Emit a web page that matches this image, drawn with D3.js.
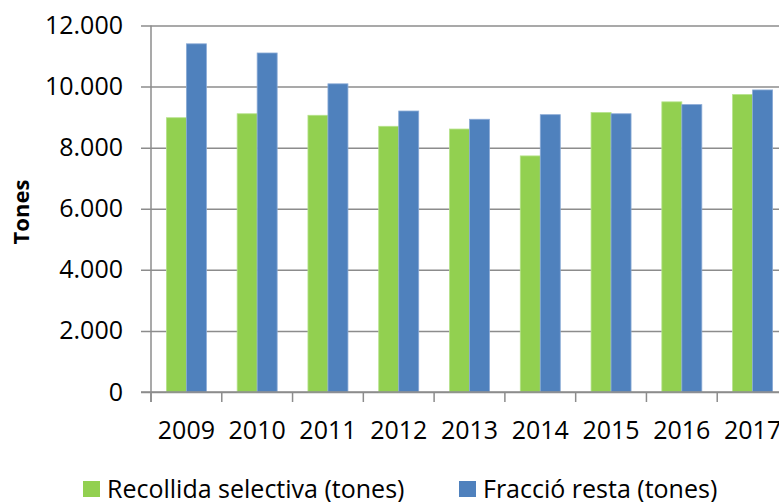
<!DOCTYPE html>
<html>
<head>
<meta charset="utf-8">
<script src="https://cdn.jsdelivr.net/npm/d3@7"></script>
<style>
  body { margin: 0; background: #fff; }
  text { font-family: "Open Sans", "Noto Sans", sans-serif; fill: #000; }
</style>
</head>
<body>
<script>
//chart values
var years = ["2009", "2010", "2011", "2012", "2013", "2014", "2015", "2016", "2017"];
var seriesNames = ["Recollida selectiva (tones)", "Fracció resta (tones)"];
var selectiva = [8980, 9110, 9060, 8700, 8610, 7730, 9150, 9500, 9740];
var resta = [11400, 11100, 10090, 9200, 8930, 9080, 9110, 9410, 9890];
var yTicks = [0, 2000, 4000, 6000, 8000, 10000, 12000];
var colors = ["#92D050", "#4F81BD"];

var w = 779, h = 502;
var plotLeft = 151, plotTop = 25.5, plotBottom = 392, plotRight = 788;

var rows = years.map(function(yr, i){
    return {year: yr, values: [selectiva[i], resta[i]]};
});

var svg = d3.select("body")
    .append("svg")
    .attr("width", w)
    .attr("height", h);

var x0 = d3.scaleBand()
    .domain(years)
    .range([plotLeft, plotRight]);

var x1 = d3.scaleBand()
    .domain([0, 1])
    .range([0, x0.bandwidth()])
    .paddingOuter(0.77);

var y = d3.scaleLinear()
    .domain([0, 12000])
    .range([plotBottom, plotTop]);

var fmt = function(d){ return d3.format(",")(d).replace(/,/g, "."); };

//gridlines + y labels
var yAxis = d3.axisLeft(y)
    .tickValues(yTicks)
    .tickSize(-(w - plotLeft + 10))
    .tickFormat(fmt);

var gy = svg.append("g")
    .attr("transform", "translate(" + (plotLeft - 10) + ",0)")
    .call(yAxis);
gy.select(".domain").remove();
gy.selectAll(".tick line")
    .attr("stroke", "#8c8c8c")
    .attr("stroke-width", 1.5);
gy.selectAll(".tick text")
    .attr("x", -18)
    .style("font-size", "25px")
    .attr("fill", "#000");

//bars
var groups = svg.selectAll(".yr")
    .data(rows)
    .enter()
    .append("g")
    .attr("class", "yr")
    .attr("transform", function(d){ return "translate(" + x0(d.year) + ",0)"; });

groups.selectAll("rect")
    .data(function(d){ return d.values; })
    .enter()
    .append("rect")
    .attr("x", function(d, i){ return x1(i); })
    .attr("y", function(d){ return y(d); })
    .attr("width", x1.bandwidth())
    .attr("height", function(d){ return y(0) - y(d); })
    .attr("fill", function(d, i){ return colors[i]; })
    .attr("stroke", function(d, i){ return i == 0 ? "#b5e28a" : "#8aaad6"; })
    .attr("stroke-width", 0.8);

//x axis
var xAxis = d3.axisBottom(x0)
    .tickSize(0)
    .tickPadding(29);
var gx = svg.append("g")
    .attr("transform", "translate(0," + plotBottom + ")")
    .call(xAxis);
gx.select(".domain").remove();
gx.selectAll(".tick text")
    .style("font-size", "25px")
    .attr("fill", "#000");

//category separator ticks
svg.selectAll(".sep")
    .data(years)
    .enter()
    .append("line")
    .attr("x1", function(d){ return x0(d); })
    .attr("x2", function(d){ return x0(d); })
    .attr("y1", plotBottom)
    .attr("y2", plotBottom + 10)
    .attr("stroke", "#8c8c8c")
    .attr("stroke-width", 1.5);

//axis lines
svg.append("line")
    .attr("x1", plotLeft).attr("x2", plotLeft)
    .attr("y1", plotTop).attr("y2", plotBottom + 10)
    .attr("stroke", "#8c8c8c")
    .attr("stroke-width", 1.5);
svg.append("line")
    .attr("x1", plotLeft - 10).attr("x2", w)
    .attr("y1", plotBottom).attr("y2", plotBottom)
    .attr("stroke", "#8c8c8c")
    .attr("stroke-width", 1.5);

//y title
svg.append("text")
    .attr("transform", "translate(29,212) rotate(-90)")
    .attr("text-anchor", "middle")
    .style("font-size", "22px")
    .style("font-weight", "bold")
    .text("Tones");

//legend
var legX = [83, 459];
var legend = svg.selectAll(".leg")
    .data(seriesNames)
    .enter()
    .append("g")
    .attr("class", "leg")
    .attr("transform", function(d, i){ return "translate(" + legX[i] + ",481)"; });
legend.append("rect")
    .attr("width", 17)
    .attr("height", 16)
    .attr("fill", function(d, i){ return colors[i]; });
legend.append("text")
    .attr("x", 24)
    .attr("y", 17)
    .style("font-size", "25px")
    .text(function(d){ return d; });
</script>
</body>
</html>
